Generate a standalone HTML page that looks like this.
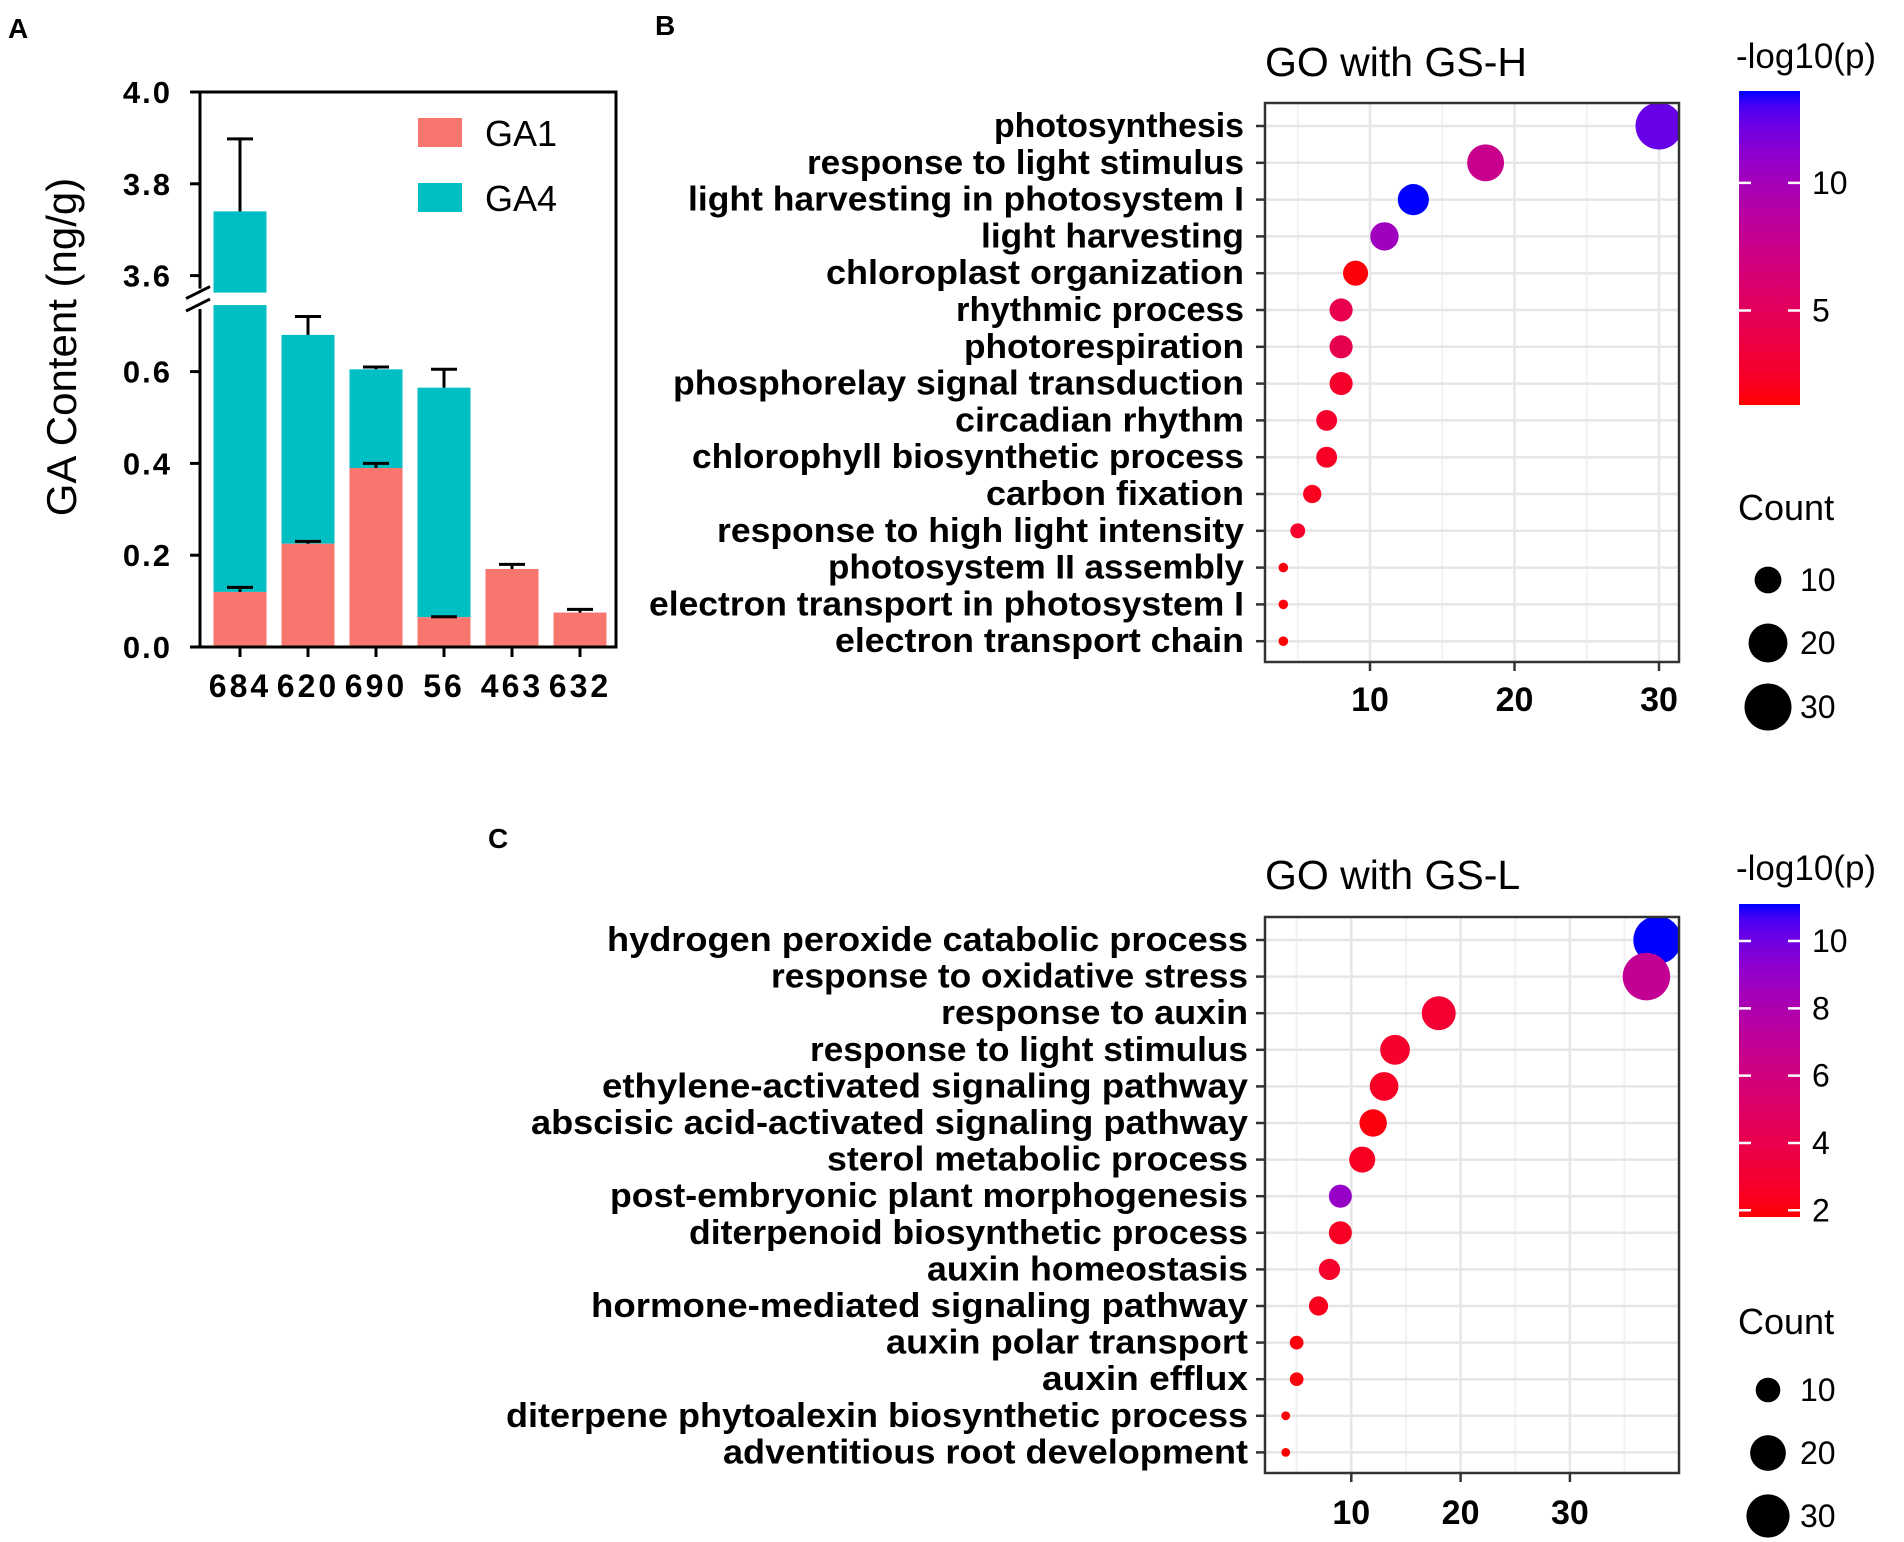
<!DOCTYPE html>
<html><head><meta charset="utf-8"><style>
html,body{margin:0;padding:0;background:#fff;}
svg{display:block;font-family:"Liberation Sans",Arial,sans-serif;}
</style></head><body>
<svg id="fig" width="1904" height="1542" viewBox="0 0 1904 1542" xmlns="http://www.w3.org/2000/svg"></svg>
<script>
// ---------- Panel A data ----------
const aCategories = ["684","620","690","56","463","632"];
const aGA1 = [0.12, 0.225, 0.39, 0.065, 0.17, 0.075];
const aGA1Err = [0.13, 0.23, 0.40, 0.066, 0.18, 0.082];
const aTotal = [3.74, 0.68, 0.605, 0.565, 0.17, 0.075];
const aTotalErr = [3.898, 0.72, 0.61, 0.605, null, null];
const aLowerTicks = [0.0, 0.2, 0.4, 0.6];
const aUpperTicks = [3.6, 3.8, 4.0];
// ---------- Panel B data ----------
const bTerms = ["photosynthesis","response to light stimulus","light harvesting in photosystem I","light harvesting","chloroplast organization","rhythmic process","photorespiration","phosphorelay signal transduction","circadian rhythm","chlorophyll biosynthetic process","carbon fixation","response to high light intensity","photosystem II assembly","electron transport in photosystem I","electron transport chain"];
const bCounts = [30,18,13,11,9,8,8,8,7,7,6,5,4,4,4];
const bLogP = [12.4,7.6,13.6,10.3,1.5,4.2,4.4,2.6,2.6,2.3,2.1,2.6,1.6,1.5,1.3];
const bXTicks = [10,20,30];
const bColorTicks = [5,10];
// ---------- Panel C data ----------
const cTerms = ["hydrogen peroxide catabolic process","response to oxidative stress","response to auxin","response to light stimulus","ethylene-activated signaling pathway","abscisic acid-activated signaling pathway","sterol metabolic process","post-embryonic plant morphogenesis","diterpenoid biosynthetic process","auxin homeostasis","hormone-mediated signaling pathway","auxin polar transport","auxin efflux","diterpene phytoalexin biosynthetic process","adventitious root development"];
const cCounts = [38,37,18,14,13,12,11,9,9,8,7,5,5,4,4];
const cLogP = [11.1,6.9,3.0,2.8,2.6,2.0,2.5,8.9,2.6,2.8,2.4,2.0,2.0,1.9,1.8];
const cXTicks = [10,20,30];
const cColorTicks = [2,4,6,8,10];
const sizeLegend = [10,20,30];

const NS="http://www.w3.org/2000/svg";
const svg=document.getElementById('fig');
function mk(tag,attrs,parent){const e=document.createElementNS(NS,tag);for(const k in attrs)e.setAttribute(k,attrs[k]);(parent||svg).appendChild(e);return e;}
function tx(str,attrs,parent){const e=mk('text',attrs,parent);e.textContent=str;return e;}

function s2l(c){c/=255;return c<=0.04045?c/12.92:Math.pow((c+0.055)/1.055,2.4);}
function l2s(c){c=c<=0.0031308?12.92*c:1.055*Math.pow(c,1/2.4)-0.055;return Math.max(0,Math.min(255,Math.round(c*255)));}
function toLab(r,g,b){r=s2l(r);g=s2l(g);b=s2l(b);let X=(0.4124*r+0.3576*g+0.1805*b)/0.95047,Y=0.2126*r+0.7152*g+0.0722*b,Z=(0.0193*r+0.1192*g+0.9505*b)/1.08883;const f=t=>t>0.008856?Math.cbrt(t):7.787*t+16/116;return [116*f(Y)-16,500*(f(X)-f(Y)),200*(f(Y)-f(Z))];}
function fromLab(L,a,bb){const fy=(L+16)/116,fx=fy+a/500,fz=fy-bb/200;const fi=t=>t*t*t>0.008856?t*t*t:(t-16/116)/7.787;const X=fi(fx)*0.95047,Y=fi(fy),Z=fi(fz)*1.08883;const r=3.2406*X-1.5372*Y-0.4986*Z,g=-0.9689*X+1.8758*Y+0.0415*Z,b=0.0557*X-0.2040*Y+1.0570*Z;return `rgb(${l2s(r)},${l2s(g)},${l2s(b)})`;}
const LR=toLab(255,0,0),LB=toLab(0,0,255);
function colAt(t){t=Math.max(0,Math.min(1,t));return fromLab(LR[0]+(LB[0]-LR[0])*t,LR[1]+(LB[1]-LR[1])*t,LR[2]+(LB[2]-LR[2])*t);}

// ================= Panel A =================
const A={left:200,right:616,top:92,y0:647,per:459,bandStart:240,band:68,bw:53};
function yA(v){return v>=3?A.top+(4.0-v)*A.per:A.y0-v*A.per;}
function xA(i){return A.bandStart+i*A.band;}
let t=tx('A',{x:8,y:38,'font-size':28,'font-weight':'bold'});



const gA=mk('g',{});


const brkTop=yA(3.563), brkBot=yA(0.745);
aCategories.forEach((c,i)=>{
  const x=xA(i)-A.bw/2;
  const g1=aGA1[i], tot=aTotal[i];
  if(tot>g1){
    if(tot>=3){
      let r=mk('rect',{x:x,y:brkBot,width:A.bw,height:yA(g1)-brkBot,fill:'#00BFC4'},gA);
      
      
      let r2=mk('rect',{x:x,y:yA(tot),width:A.bw,height:brkTop-yA(tot),fill:'#00BFC4'},gA);
      
      
    } else {
      let r=mk('rect',{x:x,y:yA(tot),width:A.bw,height:yA(g1)-yA(tot),fill:'#00BFC4'},gA);
      
      
    }
  }
  let r=mk('rect',{x:x,y:yA(g1),width:A.bw,height:A.y0-yA(g1),fill:'#F8766D'},gA);
  
  
  const cx=xA(i);
  if(aTotalErr[i]!=null){
    let e=mk('path',{d:`M${cx},${yA(tot)}V${yA(aTotalErr[i])}M${cx-13},${yA(aTotalErr[i])}H${cx+13}`,stroke:'#000','stroke-width':3,fill:'none'},gA);
    
    
  }
  let e2=mk('path',{d:`M${cx},${yA(g1)}V${yA(aGA1Err[i])}M${cx-13},${yA(aGA1Err[i])}H${cx+13}`,stroke:'#000','stroke-width':3,fill:'none'},gA);
  
  
  let l=tx(c,{x:cx,y:697,'text-anchor':'middle','font-size':32,'font-weight':'bold','letter-spacing':'3'},gA);
  
  
  let tk=mk('line',{x1:cx,x2:cx,y1:A.y0,y2:A.y0+10,stroke:'#000','stroke-width':3},gA);
  
  
});
let ax=mk('path',{d:`M${A.left},${A.top}H${A.right}V${A.y0}H${A.left}V${brkBot+4}M${A.left},${brkTop-4}V${A.top}`,stroke:'#000','stroke-width':3,fill:'none'},gA);


let br=mk('path',{d:`M${A.left-14},${brkTop+6}L${A.left+10},${brkTop-6}M${A.left-14},${brkBot+6}L${A.left+10},${brkBot-6}`,stroke:'#000','stroke-width':3},gA);


aLowerTicks.concat(aUpperTicks).forEach(v=>{
  const y=yA(v);
  let tk=mk('line',{x1:A.left-10,x2:A.left,y1:y,y2:y,stroke:'#000','stroke-width':3},gA);
  
  
  let l=tx(v.toFixed(1),{x:172,y:y+11,'text-anchor':'end','font-size':31,'font-weight':'bold','letter-spacing':'2'},gA);
  
  
});
let yt=tx('GA Content (ng/g)',{x:0,y:0,'text-anchor':'middle','font-size':42,transform:'translate(76,347) rotate(-90)'},gA);


[['GA1','#F8766D',118],['GA4','#00BFC4',183]].forEach(([n,c,y])=>{
  let r=mk('rect',{x:418,y:y,width:44,height:29,fill:c},gA);
  
  
  let l=tx(n,{x:485,y:y+28,'font-size':36},gA);
  
  
});

// ================= Dot plots =================
function dotPlot(o){
  const g=mk('g',{});
  
  
  const xS=v=>o.x0+v*o.perUnit;
  const yS=i=>o.rowTop+i*o.rowStep;
  let lab=tx(o.letter,{x:o.letterX,y:o.letterY,'font-size':28,'font-weight':'bold'},g);
  
  
  let tt=tx(o.title,{x:o.left,y:o.titleY,'font-size':41},g);
  
  
  let bg=mk('rect',{x:o.left,y:o.top,width:o.right-o.left,height:o.bottom-o.top,fill:'#fff'},g);
  
  
  for(let v=5;v<=45;v+=10){const x=xS(v);if(x>o.left&&x<o.right){let l=mk('line',{x1:x,x2:x,y1:o.top,y2:o.bottom,stroke:'#F2F2F2','stroke-width':2},g);}}
  o.xTicks.forEach(v=>{const x=xS(v);let l=mk('line',{x1:x,x2:x,y1:o.top,y2:o.bottom,stroke:'#E6E6E6','stroke-width':2.5},g);});
  o.terms.forEach((term,i)=>{const y=yS(i);let l=mk('line',{x1:o.left,x2:o.right,y1:y,y2:y,stroke:'#E6E6E6','stroke-width':2.5},g);});
  const cmin=Math.min(...o.logp),cmax=Math.max(...o.logp);
  const cmaxC=Math.max(...o.counts),cminC=Math.min(...o.counts);
  const c0=cminC-0.5;
  const kk=o.dMax/Math.pow(cmaxC-c0,0.4);
  const dS=c=>kk*Math.pow(Math.max(c-c0,0.1),0.4);
  const cp=mk('clipPath',{id:o.clip},g);mk('rect',{x:o.left,y:o.top,width:o.right-o.left,height:o.bottom-o.top},cp);
  const cl=mk('g',{'clip-path':`url(#${o.clip})`},g);
  o.terms.forEach((term,i)=>{
    const y=yS(i);
    let l=tx(term,{x:o.labelRight,y:y+11,'text-anchor':'end','font-size':34,'font-weight':'bold',textLength:o.labelWidths[i],lengthAdjust:'spacingAndGlyphs'},g);
    
    
    let tk=mk('line',{x1:o.left-9,x2:o.left,y1:y,y2:y,stroke:'#333','stroke-width':2.5},g);
    
    
    let d=mk('circle',{cx:xS(o.counts[i]),cy:y,r:dS(o.counts[i])/2,fill:colAt((o.logp[i]-cmin)/(cmax-cmin))},cl);
    
    
  });
  let fr=mk('rect',{x:o.left,y:o.top,width:o.right-o.left,height:o.bottom-o.top,fill:'none',stroke:'#333','stroke-width':2.5},g);
  
  
  o.xTicks.forEach(v=>{const x=xS(v);
    let tk=mk('line',{x1:x,x2:x,y1:o.bottom,y2:o.bottom+9,stroke:'#333','stroke-width':2.5},g);
    
    let l=tx(String(v),{x:x,y:o.xLabY,'text-anchor':'middle','font-size':34,'font-weight':'bold'},g);
    
  });
  const gid=o.clip+'grad';
  const lg=mk('linearGradient',{id:gid,x1:0,y1:1,x2:0,y2:0},g);
  for(let k=0;k<=20;k++)mk('stop',{offset:k/20,'stop-color':colAt(k/20)},lg);
  let ct=tx('-log10(p)',{x:1736,y:o.cbTitleY,'font-size':35},g);
  
  let cb=mk('rect',{x:1739,y:o.cbTop,width:61,height:o.cbBot-o.cbTop,fill:`url(#${gid})`},g);
  
  o.cTicks.forEach(v=>{const y=o.cbBot-(v-cmin)/(cmax-cmin)*(o.cbBot-o.cbTop);
    let tk=mk('path',{d:`M1739,${y}h12M1788,${y}h12`,stroke:'#fff','stroke-width':2.5},g);
    
    let l=tx(String(v),{x:1812,y:y+11,'font-size':32},g);
    
  });
  let st=tx('Count',{x:1738,y:o.countY,'font-size':36},g);
  
  sizeLegend.forEach((v,k)=>{const y=o.sizeY[k];
    let c=mk('circle',{cx:1768,cy:y,r:dS(v)/2,fill:'#000'},g);
    
    let l=tx(String(v),{x:1800,y:y+11,'font-size':32},g);
    
  });
}
dotPlot({name:'go-gs-h-dot-plot',letter:'B',letterX:655,letterY:35,title:'GO with GS-H',titleY:76,
  left:1265,right:1679,top:103,bottom:662,x0:1225.5,perUnit:14.45,rowTop:126,rowStep:36.8,
  terms:bTerms,counts:bCounts,logp:bLogP,xTicks:bXTicks,cTicks:bColorTicks,clip:'clipB',
  labelRight:1244,labelWidths:[250,437,556,263,418,288,280,571,289,552,258,527,416,595,409],
  dMax:47,xLabY:711,cbTitleY:68,cbTop:91,cbBot:405,countY:520,sizeY:[580,643,707]});
dotPlot({name:'go-gs-l-dot-plot',letter:'C',letterX:488,letterY:848,title:'GO with GS-L',titleY:889,
  left:1265,right:1679,top:917,bottom:1473,x0:1242,perUnit:10.93,rowTop:940,rowStep:36.6,
  terms:cTerms,counts:cCounts,logp:cLogP,xTicks:cXTicks,cTicks:cColorTicks,clip:'clipC',
  labelRight:1248,labelWidths:[641,477,307,438,646,717,421,638,559,321,657,362,206,742,525],
  dMax:48,xLabY:1524,cbTitleY:880,cbTop:904,cbBot:1217,countY:1334,sizeY:[1390,1453,1516]});
</script>
</body></html>
